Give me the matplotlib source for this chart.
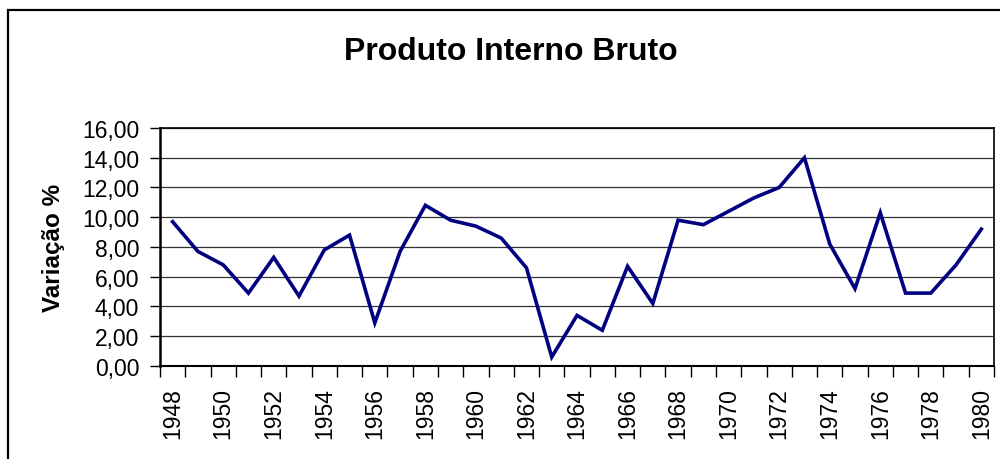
import numpy as np
import matplotlib
matplotlib.use('Agg')
import matplotlib.pyplot as plt
from matplotlib.ticker import FuncFormatter, MultipleLocator, FixedLocator
from matplotlib.patches import Rectangle

plt.rcParams['font.family'] = ['Liberation Sans', 'DejaVu Sans']

# PIB - variacao anual (%)
anos = list(range(1948, 1981))
variacao = [9.7, 7.7, 6.8, 4.9, 7.3, 4.7, 7.8, 8.8, 2.9, 7.7,
            10.8, 9.8, 9.4, 8.6, 6.6, 0.6, 3.4, 2.4, 6.7, 4.2,
            9.8, 9.5, 10.4, 11.3, 12.0, 14.0, 8.2, 5.2, 10.3, 4.9,
            4.9, 6.8, 9.2]
titulo = 'Produto Interno Bruto'
rotulo_y = 'Variação %'

fig = plt.figure(figsize=(10, 4.6), dpi=100)
ax = fig.add_axes([0.16, 0.2022, 0.834, 0.5174])

x = np.arange(len(anos))
ax.plot(x, variacao, color='#000080', lw=2.6, solid_joinstyle='miter', zorder=3)

ax.set_xlim(-0.5, len(anos) - 0.5)
ax.set_ylim(0, 16)
ax.yaxis.set_major_locator(MultipleLocator(2))
ax.yaxis.set_major_formatter(FuncFormatter(lambda v, p: ('%.2f' % v).replace('.', ',')))
ax.grid(axis='y', color='#333333', lw=0.9, zorder=1)

ax.xaxis.set_major_locator(FixedLocator(x[::2]))
ax.set_xticklabels([str(a) for a in anos[::2]], rotation=90, ha='center', va='top')
ax.xaxis.set_minor_locator(FixedLocator(np.arange(-0.5, len(anos), 1.0)))
ax.tick_params(axis='x', which='major', length=0, pad=15, labelsize=16.5)
ax.tick_params(axis='x', which='minor', length=8, width=1, direction='out')
ax.tick_params(axis='y', length=7, width=1, direction='out', pad=8, labelsize=16.5)

for s in ax.spines.values():
    s.set_color('black')
    s.set_linewidth(1.2)
ax.spines['left'].set_linewidth(1.8)
ax.spines['bottom'].set_linewidth(1.5)

ax.set_ylabel(rotulo_y, fontsize=17.5, fontweight='bold', labelpad=12)
fig.text(0.511, 1 - 52 / 460, titulo, fontsize=23, fontweight='bold',
         ha='center', va='center')

fig.patches.append(Rectangle((0.008, -0.1), 1.1, 1 - 11 / 460 + 0.1,
                             transform=fig.transFigure, fill=False,
                             lw=1.6, edgecolor='black', clip_on=False))

plt.savefig('out.png', dpi=100)
